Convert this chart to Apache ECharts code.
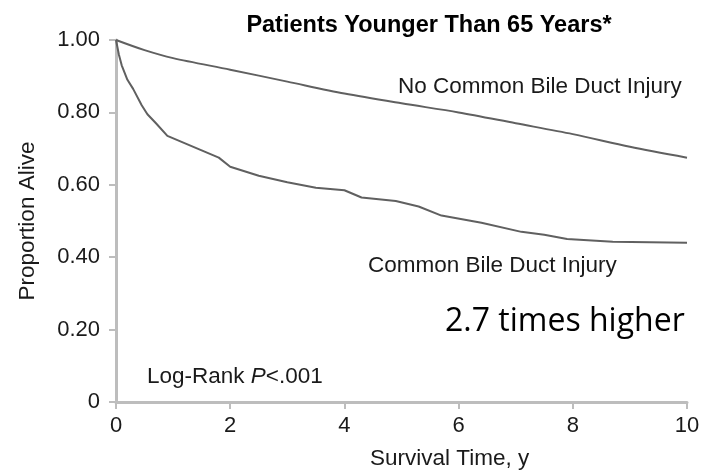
<!DOCTYPE html>
<html>
<head>
<meta charset="utf-8">
<script src="https://cdn.jsdelivr.net/npm/echarts@6/dist/echarts.min.js"></script>
<style>
  html, body { margin: 0; padding: 0; background: #fff; }
  #chart { width: 715px; height: 475px; }
</style>
</head>
<body>
<div id="chart"></div>
<script>
// survival time (years) and proportion alive
const noInjuryYears = [0, 0.5, 1, 2, 3, 4, 5, 6, 7, 8, 9, 10];
const noInjuryAlive = [1.0, 0.972, 0.95, 0.918, 0.885, 0.852, 0.825, 0.8, 0.77, 0.74, 0.705, 0.675];

const injuryYears = [0, 0.05, 0.1, 0.2, 0.3, 0.45, 0.55, 0.7, 0.9, 1.2, 1.5, 1.8, 2.0, 2.5, 3.0, 3.5, 4.0, 4.3, 4.9, 5.3, 5.7, 6.4, 7.1, 7.5, 7.9, 8.7, 10];
const injuryAlive = [1.0, 0.96, 0.93, 0.89, 0.865, 0.82, 0.795, 0.77, 0.735, 0.715, 0.695, 0.675, 0.65, 0.625, 0.607, 0.592, 0.585, 0.565, 0.555, 0.54, 0.515, 0.495, 0.47, 0.462, 0.45, 0.443, 0.44];

const xTicks = [0, 2, 4, 6, 8, 10];
const yTickLabels = { 0: '0', 0.2: '0.20', 0.4: '0.40', 0.6: '0.60', 0.8: '0.80', 1: '1.00' };

const font = 'Liberation Sans, Arial, sans-serif';
const axisGray = '#bdbdbd';
const lineGray = '#606060';
const textColor = '#1a1a1a';

const pairs = (xs, ys) => xs.map((x, i) => [x, ys[i]]);

const chart = echarts.init(document.getElementById('chart'), null, { renderer: 'canvas' });
chart.setOption({
    animation: false,
    backgroundColor: '#fff',
    title: {
        text: 'Patients Younger Than 65 Years*',
        left: 424,
        textAlign: 'center',
        top: 9,
        textStyle: { fontFamily: font, fontSize: 23.5, fontWeight: 'bold', color: '#000' }
    },
    grid: { left: 116, right: 28, top: 40, bottom: 73, outerBoundsMode: 'none' },
    xAxis: {
        type: 'value',
        min: 0, max: 10, interval: 2,
        axisLine: { lineStyle: { color: axisGray, width: 3 } },
        axisTick: { show: true, length: 7, lineStyle: { color: axisGray, width: 2 } },
        axisLabel: {
            fontFamily: font, fontSize: 22, color: textColor, margin: 13,
            formatter: v => xTicks.includes(v) ? String(v) : ''
        },
        splitLine: { show: false }
    },
    yAxis: {
        type: 'value',
        min: 0, max: 1, interval: 0.2,
        name: 'Proportion Alive',
        nameLocation: 'middle',
        nameGap: 77,
        nameTextStyle: { fontFamily: font, fontSize: 22.5, color: textColor },
        axisLine: { show: true, lineStyle: { color: axisGray, width: 3 } },
        axisTick: { show: true, length: 7, lineStyle: { color: axisGray, width: 2 } },
        axisLabel: {
            fontFamily: font, fontSize: 22, color: textColor, margin: 16,
            formatter: v => yTickLabels[Math.round(v * 10) / 10] || ''
        },
        splitLine: { show: false }
    },
    series: [
        {
            name: 'No Common Bile Duct Injury',
            type: 'line',
            data: pairs(noInjuryYears, noInjuryAlive),
            smooth: 0.3,
            symbol: 'none',
            lineStyle: { color: lineGray, width: 2 }
        },
        {
            name: 'Common Bile Duct Injury',
            type: 'line',
            data: pairs(injuryYears, injuryAlive),
            symbol: 'none',
            lineStyle: { color: lineGray, width: 2 }
        }
    ],
    graphic: [
        {
            // x axis title, drawn off-centre as in the source
            type: 'text', x: 370, y: 459,
            style: { text: 'Survival Time, y', font: '22.5px ' + font, fill: textColor, verticalAlign: 'middle' }
        },
        {
            type: 'text', x: 398, y: 87,
            style: { text: 'No Common Bile Duct Injury', font: '22.5px ' + font, fill: textColor, verticalAlign: 'middle' }
        },
        {
            type: 'text', x: 368, y: 266,
            style: { text: 'Common Bile Duct Injury', font: '22.5px ' + font, fill: textColor, verticalAlign: 'middle' }
        },
        {
            type: 'text', x: 147, y: 377,
            style: {
                text: '{n|Log-Rank }{i|P}{n|<.001}',
                verticalAlign: 'middle',
                rich: {
                    n: { fontFamily: font, fontSize: 22.5, fill: textColor },
                    i: { fontFamily: font, fontSize: 22.5, fontStyle: 'italic', fill: textColor }
                }
            }
        },
        {
            type: 'text', x: 445, y: 322,
            style: { text: '2.7 times higher', font: '32px Open Sans, sans-serif', fill: '#000', verticalAlign: 'middle' }
        }
    ]
});
</script>
</body>
</html>
